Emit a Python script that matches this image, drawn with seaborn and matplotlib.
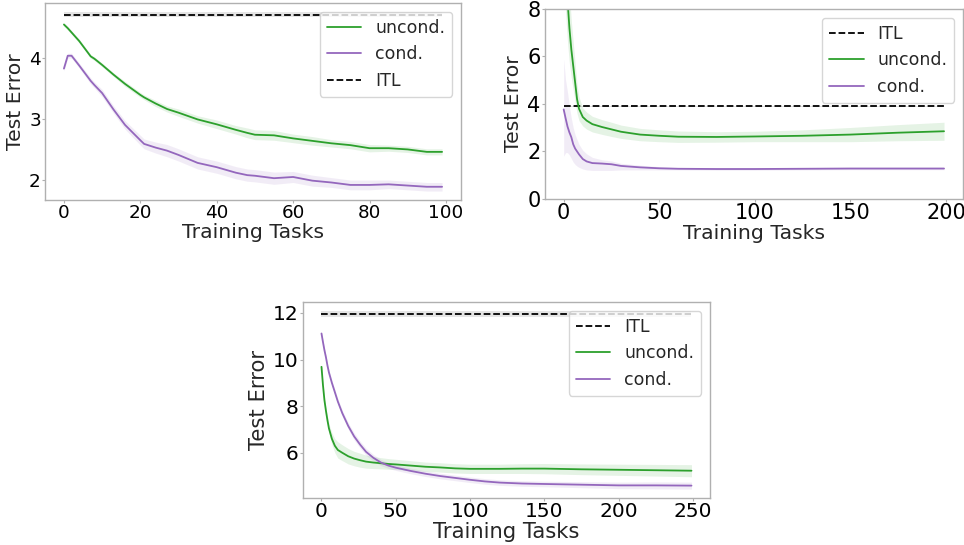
import numpy as np
import matplotlib
matplotlib.use("Agg")
import matplotlib.pyplot as plt
import seaborn as sns

# ---- panel 1 (top left) ----
p1_x = [0, 1, 2, 4, 7, 8, 10, 13, 16, 20, 21, 24, 27, 30, 35, 40, 45, 48, 50,
        55, 60, 65, 70, 75, 80, 85, 90, 95, 99]
p1_uncond = [4.54, 4.48, 4.41, 4.27, 4.02, 3.98, 3.88, 3.72, 3.57, 3.39, 3.35,
             3.25, 3.16, 3.10, 2.99, 2.91, 2.82, 2.77, 2.74, 2.73, 2.68, 2.64,
             2.60, 2.57, 2.52, 2.52, 2.50, 2.46, 2.46]
p1_uncond_err = [0.03, 0.03, 0.03, 0.03, 0.03, 0.03, 0.03, 0.03, 0.04, 0.04, 0.04,
                 0.05, 0.05, 0.06, 0.06, 0.07, 0.07, 0.08, 0.08, 0.08, 0.07, 0.07,
                 0.06, 0.06, 0.06, 0.05, 0.05, 0.05, 0.05]
p1_cond = [3.82, 4.03, 4.03, 3.87, 3.62, 3.55, 3.42, 3.15, 2.90, 2.65, 2.59,
           2.53, 2.48, 2.41, 2.28, 2.21, 2.12, 2.08, 2.07, 2.03, 2.05, 1.99,
           1.96, 1.92, 1.92, 1.93, 1.91, 1.89, 1.89]
p1_cond_err = [0.04, 0.04, 0.04, 0.04, 0.05, 0.05, 0.06, 0.06, 0.07, 0.08, 0.08,
               0.09, 0.10, 0.10, 0.10, 0.10, 0.10, 0.10, 0.10, 0.10, 0.09, 0.09,
               0.08, 0.08, 0.08, 0.07, 0.07, 0.07, 0.07]
p1_itl, p1_itl_err = 4.70, 0.045

# ---- panel 2 (top right) ----
p2_x = [0, 1, 2, 3, 4, 5, 6, 7, 8, 10, 12, 15, 20, 25, 30, 40, 50, 60, 80,
        100, 125, 150, 175, 199]
p2_uncond = [12.0, 10.0, 8.4, 7.2, 6.3, 5.6, 4.9, 4.2, 3.8, 3.45, 3.3, 3.15,
             3.03, 2.93, 2.83, 2.71, 2.66, 2.62, 2.61, 2.63, 2.66, 2.71, 2.79, 2.85]
p2_uncond_err = [2.5, 2.1, 1.8, 1.5, 1.2, 1.0, 0.8, 0.6, 0.5, 0.38, 0.36, 0.33,
                 0.31, 0.3, 0.28, 0.26, 0.25, 0.24, 0.22, 0.22, 0.25, 0.3, 0.34, 0.38]
p2_cond = [3.77, 3.4, 3.05, 2.8, 2.6, 2.3, 2.12, 2.0, 1.88, 1.68, 1.58, 1.51,
           1.49, 1.46, 1.39, 1.33, 1.29, 1.27, 1.26, 1.26, 1.27, 1.28, 1.28, 1.28]
p2_cond_lo = [1.8, 1.95, 1.95, 1.85, 1.7, 1.55, 1.45, 1.38, 1.33, 1.26, 1.22, 1.2,
              1.2, 1.2, 1.22, 1.22, 1.22, 1.22, 1.21, 1.21, 1.22, 1.23, 1.23, 1.23]
p2_cond_hi = [5.9, 5.0, 4.5, 3.9, 3.4, 3.0, 2.7, 2.5, 2.3, 2.05, 1.9, 1.75,
              1.65, 1.6, 1.5, 1.42, 1.36, 1.32, 1.31, 1.31, 1.32, 1.33, 1.33, 1.33]
p2_itl, p2_itl_err = 3.9, 0.01

# ---- panel 3 (bottom) ----
p3_x = [0, 1, 2, 3, 4, 5, 7, 9, 11, 14, 18, 22, 26, 30, 35, 40, 45, 50, 60, 70,
        80, 90, 100, 110, 120, 135, 150, 175, 200, 225, 249]
p3_uncond = [9.69, 8.9, 8.25, 7.8, 7.4, 7.05, 6.6, 6.3, 6.12, 6.0, 5.85, 5.75,
             5.68, 5.62, 5.58, 5.55, 5.52, 5.50, 5.45, 5.40, 5.37, 5.33, 5.31,
             5.31, 5.31, 5.32, 5.32, 5.29, 5.27, 5.25, 5.23]
p3_uncond_err = [0.1, 0.12, 0.13, 0.15, 0.17, 0.2, 0.25, 0.3, 0.35, 0.34, 0.33,
                 0.31, 0.3, 0.28, 0.26, 0.24, 0.23, 0.22, 0.21, 0.2, 0.2, 0.2,
                 0.2, 0.2, 0.2, 0.21, 0.22, 0.23, 0.24, 0.25, 0.26]
p3_cond = [11.12, 10.75, 10.4, 10.1, 9.75, 9.45, 9.0, 8.6, 8.2, 7.7, 7.15, 6.7,
           6.35, 6.04, 5.78, 5.58, 5.45, 5.36, 5.22, 5.10, 5.0, 4.92, 4.84, 4.77,
           4.72, 4.68, 4.66, 4.63, 4.60, 4.60, 4.59]
p3_cond_err = [0.08, 0.08, 0.09, 0.09, 0.1, 0.1, 0.11, 0.12, 0.12, 0.13, 0.14, 0.15,
               0.15, 0.15, 0.14, 0.13, 0.12, 0.12, 0.12, 0.12, 0.12, 0.12, 0.12,
               0.12, 0.12, 0.12, 0.12, 0.13, 0.14, 0.15, 0.15]
p3_itl, p3_itl_err = 11.95, 0.14

GREEN = "#2ca02c"
PURPLE = "#9467bd"

sns.set_style("white")
plt.rcParams.update({
    "font.family": ["DejaVu Sans"],
    "axes.edgecolor": "#b0b0b0",
    "axes.linewidth": 1.0,
    "xtick.bottom": True,
    "ytick.left": True,
    "xtick.color": "#b0b0b0",
    "ytick.color": "#b0b0b0",
    "xtick.labelcolor": "black",
    "ytick.labelcolor": "black",
    "xtick.major.size": 2.5,
    "ytick.major.size": 2.5,
    "xtick.major.pad": 0.5,
    "ytick.major.pad": 0.5,
    "legend.fontsize": 12.5,
})

fig = plt.figure(figsize=(9.64, 5.45), dpi=100)
ax1 = fig.add_axes([0.0467, 0.633, 0.4315, 0.3615])
ax2 = fig.add_axes([0.565, 0.635, 0.434, 0.3485])
ax3 = fig.add_axes([0.3143, 0.0862, 0.4222, 0.3597])


def series(ax, x, y, lo, hi, color, label, dashed=False, alpha=0.12):
    sns.lineplot(x=x, y=y, ax=ax, color=color, label=label, lw=1.3,
                 linestyle="--" if dashed else "-", errorbar=None)
    ax.fill_between(x, lo, hi, color=color, alpha=alpha, lw=0)


def sym(y, err):
    y, err = np.asarray(y), np.asarray(err)
    return y - err, y + err


def itl_line(ax, x, val, err):
    y = [val] * len(x)
    series(ax, x, y, val - err, val + err, "black", "ITL", dashed=True, alpha=0.1)


# top left: uncond, cond, ITL
series(ax1, p1_x, p1_uncond, *sym(p1_uncond, p1_uncond_err), GREEN, "uncond.")
series(ax1, p1_x, p1_cond, *sym(p1_cond, p1_cond_err), PURPLE, "cond.")
itl_line(ax1, p1_x, p1_itl, p1_itl_err)

# top right: ITL, uncond, cond
itl_line(ax2, p2_x, p2_itl, p2_itl_err)
series(ax2, p2_x, p2_uncond, *sym(p2_uncond, p2_uncond_err), GREEN, "uncond.")
series(ax2, p2_x, p2_cond, p2_cond_lo, p2_cond_hi, PURPLE, "cond.")
ax2.set_ylim(0, 8)
ax2.set_yticks([0, 2, 4, 6, 8])

# bottom: ITL, uncond, cond
itl_line(ax3, p3_x, p3_itl, p3_itl_err)
series(ax3, p3_x, p3_uncond, *sym(p3_uncond, p3_uncond_err), GREEN, "uncond.")
series(ax3, p3_x, p3_cond, *sym(p3_cond, p3_cond_err), PURPLE, "cond.")
ax3.set_yticks([6, 8, 10, 12])

ax1.set_yticks([2, 3, 4])
ax1.set_xticks([0, 20, 40, 60, 80, 100])
ax2.set_xticks([0, 50, 100, 150, 200])
ax3.set_xticks([0, 50, 100, 150, 200, 250])

# the three panels use slightly different text sizes
tick_sizes = [13.2, 15.0, 14.5]
label_sizes = [14.7, 14.7, 15.2]
for ax, ts, ls in zip((ax1, ax2, ax3), tick_sizes, label_sizes):
    ax.tick_params(labelsize=ts)
    ax.set_xlabel("Training Tasks", fontsize=ls, labelpad=0.5)
    ax.set_ylabel("Test Error", fontsize=ls, labelpad=3)
    ax.legend(loc="upper right")

fig.savefig("out.png", dpi=100)
